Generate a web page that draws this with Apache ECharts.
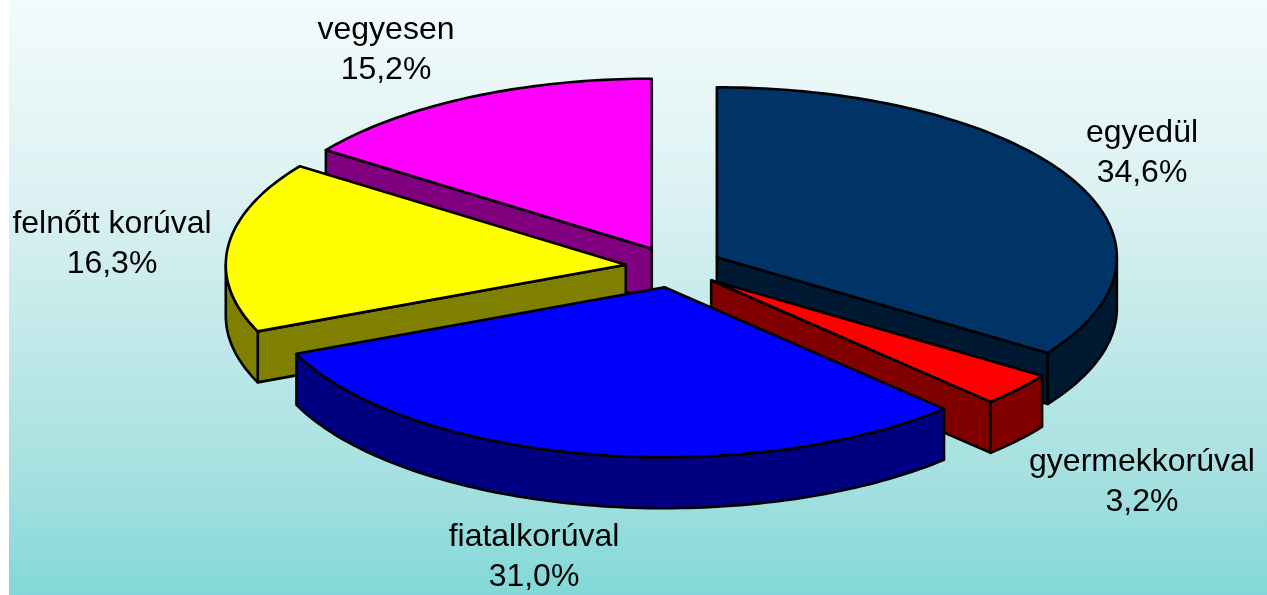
<!DOCTYPE html>
<html>
<head>
<meta charset="utf-8">
<title>Pie</title>
<script src="https://cdn.jsdelivr.net/npm/echarts@6/dist/echarts.min.js"></script>
<style>
  html, body { margin: 0; padding: 0; background: #fff; }
  #chart { width: 1267px; height: 595px; }
</style>
</head>
<body>
<div id="chart"></div>
<script>
// data
const categories = ["egyedül", "gyermekkorúval", "fiatalkorúval", "felnőtt korúval", "vegyesen"]
const shares = [34.6, 3.2, 31.0, 16.3, 15.2]

// slice colours
const topColors = ["#003366", "#ff0000", "#0000ff", "#ffff00", "#ff00ff"]
const sideColors = ["#001933", "#800000", "#000080", "#808000", "#800080"]

// label centres, [x, y between the two lines]
const labelPos = [[1142, 153], [1142, 482], [534, 557], [112, 244], [386, 50]]

// pie geometry: tilted ellipse
const cx = 674, cy = 267
const rx = 400, ry = 170
const depth = 51
const explode = 48.5
const tilt = ry / rx

const total = shares.reduce((a, b) => a + b, 0)
let acc = 0
const slices = shares.map((v, i) => {
  const start = acc / total * Math.PI * 2
  acc += v
  const end = acc / total * Math.PI * 2
  return { i, start, end, mid: (start + end) / 2 }
})
// back slices first
const drawOrder = slices.slice().sort((a, b) => Math.cos(b.mid) - Math.cos(a.mid))

const polygon = (points, fill) => ({
  type: "polygon",
  shape: { points },
  style: { fill, stroke: "#000", lineWidth: 2.6, lineJoin: "round" }
})

const renderItem = (params, api) => {
  const s = drawOrder[params.dataIndex]
  const ax = cx + explode * Math.sin(s.mid)
  const ay = cy - explode * tilt * Math.cos(s.mid)
  const rim = t => [ax + rx * Math.sin(t), ay - ry * Math.cos(t)]
  const drop = p => [p[0], p[1] + depth]
  const arc = (from, to) => {
    const pts = []
    const n = Math.max(2, Math.ceil((to - from) / 0.02))
    for (let k = 0; k <= n; k++) pts.push(rim(from + (to - from) * k / n))
    return pts
  }
  const apex = [ax, ay]
  const side = sideColors[s.i]
  const children = []

  // cut faces, only the ones turned towards the viewer
  if (Math.sin(s.start) < -1e-6) {
    const p = rim(s.start)
    children.push(polygon([apex, p, drop(p), drop(apex)], side))
  }
  if (Math.sin(s.end) > 1e-6) {
    const p = rim(s.end)
    children.push(polygon([apex, p, drop(p), drop(apex)], side))
  }
  // outer wall, only the front half of the ellipse shows
  const wFrom = Math.max(s.start, Math.PI / 2)
  const wTo = Math.min(s.end, Math.PI * 1.5)
  if (wTo > wFrom) {
    const upper = arc(wFrom, wTo)
    children.push(polygon(upper.concat(upper.map(drop).reverse()), side))
  }
  // top
  children.push(polygon([apex].concat(arc(s.start, s.end)), topColors[s.i]))

  return { type: "group", children }
}

const labelGraphics = categories.map((name, i) => ({
  type: "text",
  x: labelPos[i][0],
  y: labelPos[i][1],
  z: 10,
  style: {
    text: name + "\n" + shares[i].toFixed(1).replace(".", ",") + "%",
    font: '32px "Liberation Sans", Arial, sans-serif',
    lineHeight: 40,
    fill: "#000",
    align: "center",
    verticalAlign: "middle"
  }
}))

const chart = echarts.init(document.getElementById("chart"), null, { renderer: "canvas" })
chart.setOption({
  animation: false,
  graphic: [
    {
      type: "rect",
      z: -10,
      shape: { x: 9, y: 0, width: 1258, height: 595 },
      style: {
        fill: new echarts.graphic.LinearGradient(0, 0, 0, 1, [
          { offset: 0, color: "#f3fbfb" },
          { offset: 0.34, color: "#dbf1f2" },
          { offset: 0.81, color: "#a5e0e0" },
          { offset: 1, color: "#82d8d8" }
        ])
      }
    }
  ].concat(labelGraphics),
  series: [{
    type: "custom",
    coordinateSystem: "none",
    renderItem,
    data: drawOrder.map(s => shares[s.i]),
    silent: true
  }]
})
</script>
</body>
</html>
